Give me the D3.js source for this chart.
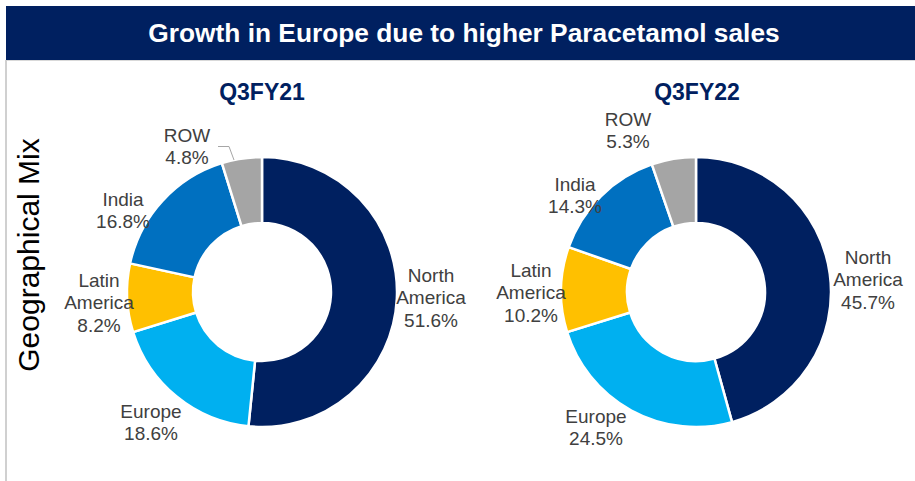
<!DOCTYPE html>
<html>
<head>
<meta charset="utf-8">
<script src="https://cdn.jsdelivr.net/npm/d3@7"></script>
<style>
  html, body { margin: 0; padding: 0; background: #fff; }
  svg { display: block; font-family: "Liberation Sans", Arial, sans-serif; }
</style>
</head>
<body>
<svg id="chart" width="915" height="481"></svg>
<script>
const title = "Growth in Europe due to higher Paracetamol sales";
const sideLabel = "Geographical Mix";
const regions = ["North America", "Europe", "Latin America", "India", "ROW"];
const periods = ["Q3FY21", "Q3FY22"];
const valuesQ3FY21 = [51.6, 18.6, 8.2, 16.8, 4.8];
const valuesQ3FY22 = [45.7, 24.5, 10.2, 14.3, 5.3];
const regionColors = ["#002060", "#00B0F0", "#FFC000", "#0070C0", "#A5A5A5"];

const svg = d3.select("#chart");

// banner
svg.append("rect").attr("x", 6).attr("y", 6).attr("width", 909).attr("height", 54).attr("fill", "#002060");
svg.append("text").attr("x", 464).attr("y", 42).attr("text-anchor", "middle")
  .attr("fill", "#fff").attr("font-weight", "bold").attr("font-size", 26.3).text(title);

// panel border
svg.append("line").attr("x1", 6).attr("x2", 915).attr("y1", 60.5).attr("y2", 60.5).attr("stroke", "#d9d9d9").attr("stroke-width", 1);
svg.append("rect").attr("x", 5).attr("y", 60).attr("width", 2).attr("height", 421).attr("fill", "#d0d0d0");

// side label
svg.append("text").attr("transform", "translate(39,255) rotate(-90)").attr("text-anchor", "middle")
  .attr("fill", "#000").attr("font-size", 30).text(sideLabel);

const color = d3.scaleOrdinal().domain(regions).range(regionColors);
const pie = d3.pie().sort(null).value(d => d.value);
const arc = d3.arc().innerRadius(69).outerRadius(135);

// label anchor positions (centre of text block) for each panel
const labelPos = [
  {"North America": [431, 297], "Europe": [151, 422], "Latin America": [99, 302], "India": [123, 210], "ROW": [187, 146]},
  {"North America": [868, 279], "Europe": [596, 427], "Latin America": [531, 292], "India": [575, 195], "ROW": [628, 130]}
];
const centres = [[262, 292], [696, 292]];
const titleX = [262, 697];
const datasets = [valuesQ3FY21, valuesQ3FY22];

datasets.forEach((vals, i) => {
  const data = regions.map((r, k) => ({region: r, value: vals[k]}));
  const g = svg.append("g").attr("transform", `translate(${centres[i][0]},${centres[i][1]})`);
  g.selectAll("path").data(pie(data)).join("path")
    .attr("d", arc).attr("fill", d => color(d.data.region))
    .attr("stroke", "#fff").attr("stroke-width", 2.5).attr("stroke-linejoin", "round");

  svg.append("text").attr("x", titleX[i]).attr("y", 100).attr("text-anchor", "middle")
    .attr("fill", "#002060").attr("font-weight", "bold").attr("font-size", 23).text(periods[i]);

  data.forEach(d => {
    const words = d.region.split(" ");
    const lines = words.concat([d3.format(".1f")(d.value) + "%"]);
    const [lx, ly] = labelPos[i][d.region];
    const lh = 22.5;
    const t = svg.append("text").attr("text-anchor", "middle").attr("fill", "#404040").attr("font-size", 19);
    lines.forEach((ln, j) => {
      t.append("tspan").attr("x", lx).attr("y", ly + (j - (lines.length - 1) / 2) * lh + 7).text(ln);
    });
  });
});

// leader line for ROW in first chart
svg.append("polyline").attr("points", "218,146.5 229,146.5 234,160").attr("fill", "none")
  .attr("stroke", "#a6a6a6").attr("stroke-width", 1);
</script>
</body>
</html>
